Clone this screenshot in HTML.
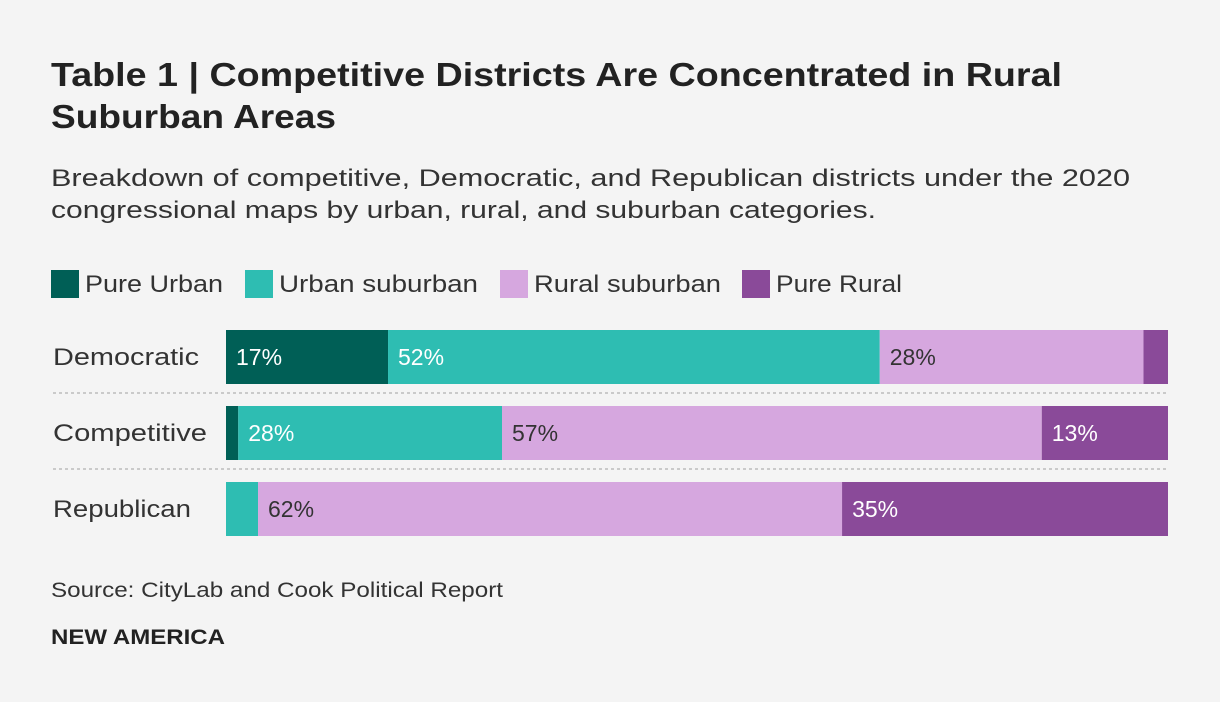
<!DOCTYPE html>
<html><head><meta charset="utf-8"><style>
body{margin:0;background:#f4f4f4;font-family:"Liberation Sans",sans-serif;color:#222;}
#wrap{position:relative;width:1220px;height:702px;overflow:hidden;}
</style></head><body>
<div id="wrap">
<svg id="chart" width="1220" height="702" style="position:absolute;left:0;top:0" font-family="Liberation Sans, sans-serif">
<g font-size="33" font-weight="bold" fill="#222">
<text x="51" y="86" textLength="1011" lengthAdjust="spacingAndGlyphs">Table 1 | Competitive Districts Are Concentrated in Rural</text>
<text x="51" y="128" textLength="285" lengthAdjust="spacingAndGlyphs">Suburban Areas</text>
</g>
<g font-size="24" fill="#333">
<text x="51" y="186" textLength="1079" lengthAdjust="spacingAndGlyphs">Breakdown of competitive, Democratic, and Republican districts under the 2020</text>
<text x="51" y="218" textLength="825" lengthAdjust="spacingAndGlyphs">congressional maps by urban, rural, and suburban categories.</text>
</g>
<text x="51" y="597" font-size="21" fill="#333" textLength="452" lengthAdjust="spacingAndGlyphs">Source: CityLab and Cook Political Report</text>
<text x="51" y="644" font-size="21" font-weight="bold" fill="#222" textLength="174" lengthAdjust="spacingAndGlyphs">NEW AMERICA</text>
</svg>
</div>
<script>
const categories=["Democratic","Competitive","Republican"];
const seriesNames=["Pure Urban","Urban suburban","Rural suburban","Pure Rural"];
const pureUrban=[17.2,1.3,0];
const urbanSuburban=[52.2,28,3.4];
const ruralSuburban=[28,57.3,62];
const pureRural=[2.6,13.4,34.6];
const colors=["#005f56","#2ebdb2","#d6a7df","#8a4a99"];
const textColors=["#fff","#fff","#333","#fff"];
const svg=document.getElementById('chart');
const NS="http://www.w3.org/2000/svg";
const x0=226,x1=1168;
function xs(v){return (x1-x0)*v/100;}
function ys(i){return 330+i*76;}
const barH=54;
const legX=[51,245,500,742];
const legTextW=[138,199,187,126];
const catW=[146,154,138];
function mk(t,a){const e=document.createElementNS(NS,t);for(const k in a)e.setAttribute(k,a[k]);svg.appendChild(e);return e;}
seriesNames.forEach((n,i)=>{
 const r=mk('rect',{x:legX[i],y:270,width:28,height:28,fill:colors[i]});
 
 
 const t=mk('text',{x:legX[i]+34,y:292,'font-size':24,fill:'#333',textLength:legTextW[i],lengthAdjust:'spacingAndGlyphs'});
 t.textContent=n;
 
 
});
const series=[pureUrban,urbanSuburban,ruralSuburban,pureRural];
categories.forEach((c,i)=>{
 const y=ys(i);
 const l=mk('text',{x:53,y:y+35,'font-size':24,fill:'#333',textLength:catW[i],lengthAdjust:'spacingAndGlyphs'});
 l.textContent=c;
 
 
 if(i>0){const d=mk('line',{x1:53,x2:x1,y1:y-13,y2:y-13,stroke:'#bbb','stroke-width':1.5,'stroke-dasharray':'3,3'});
  }
 let cx=x0;
 series.forEach((s,j)=>{
  const w=xs(s[i]);
  if(w<=0)return;
  const r=mk('rect',{x:cx,y:y,width:w,height:barH,fill:colors[j]});
  
  
  if(s[i]>=5){
   const t=mk('text',{x:cx+10,y:y+35,'font-size':23,fill:textColors[j]});
   t.textContent=Math.round(s[i])+'%';
   
   
  }
  cx+=w;
 });
});
</script>
</body></html>
